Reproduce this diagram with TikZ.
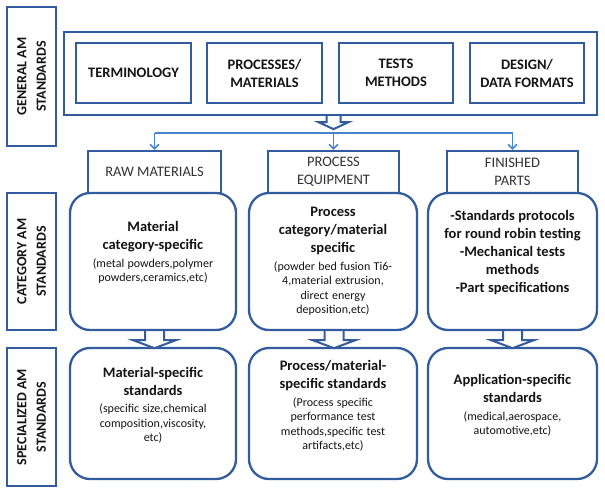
\documentclass[tikz,border=0pt]{standalone}
\usepackage{fontspec}
\setmainfont{Carlito}
\usetikzlibrary{arrows.meta,calc}
\definecolor{bord}{RGB}{50,92,158}
\definecolor{connc}{RGB}{72,132,204}
\definecolor{txt}{RGB}{20,20,20}
\definecolor{htxt}{RGB}{50,50,50}
\newcommand\BoldPart[1]{{\fontsize{14.5}{18}\selectfont\bfseries #1\par}}
\newcommand\SmallPart[1]{\par\vspace{3pt}{\fontsize{12}{14.5}\selectfont\noindent\char40 #1\par}}
\begin{document}
\begin{tikzpicture}[x=1pt,y=-1pt,
  box/.style={draw=bord,line width=2.3pt,fill=white,inner sep=0pt},
  labbox/.style={box,rotate=90,align=center,text=txt,
    font=\fontsize{14}{19.5}\selectfont\bfseries,minimum height=49pt},
  ibox/.style={box,align=center,text=txt,minimum height=60pt,
    font=\fontsize{14.5}{18}\selectfont\bfseries},
  hbox/.style={box,align=center,text=htxt,minimum height=42pt,
    font=\fontsize{14.5}{18}\selectfont},
  rbox/.style={box,rounded corners=20pt},
  rtext/.style={text width=165pt,align=center,inner sep=0pt,text=txt},
  cline/.style={draw=connc,line width=1.5pt},
  carrow/.style={cline,-{Straight Barb[length=4.5pt,width=9pt,line width=1.5pt]}},
  harrow/.style={draw=bord,line width=2pt,line join=miter},
  smallarr/.pic={
    \fill[white] (-7,1) -- (-7,6) -- (-15,6) -- (0,13) -- (15,6) -- (7,6) -- (7,1) -- cycle;
    \draw[harrow] (-7,0) -- (-7,6) -- (-15,6) -- (0,13) -- (15,6) -- (7,6) -- (7,0);},
  bigarr/.pic={
    \fill[white] (-9.5,1) -- (-9.5,9) -- (-21.5,9) -- (0,17) -- (21.5,9) -- (9.5,9) -- (9.5,1) -- cycle;
    \draw[harrow] (-9.5,0) -- (-9.5,9) -- (-21.5,9) -- (0,17) -- (21.5,9) -- (9.5,9) -- (9.5,0);}
]
\useasboundingbox (0,0) rectangle (605,493);

% side labels
\node[labbox,minimum width=139pt] (lg) at (31.5,76.5) {GENERAL AM\\STANDARDS};
\node[labbox,minimum width=137pt] (lc) at (31.5,261.5) {CATEGORY AM\\STANDARDS};
\node[labbox,minimum width=138pt] (ls) at (31.5,417) {SPECIALIZED AM\\STANDARDS};

% general standards
\node[box,minimum width=533pt,minimum height=83pt] (outer) at (330.5,73.5) {};
\node[ibox,minimum width=115pt] (term) at (133.5,73) {TERMINOLOGY};
\node[ibox,minimum width=115pt] (proc) at (264.5,73) {PROCESSES/\\MATERIALS};
\node[ibox,minimum width=114pt] (test) at (396,73) {TESTS\\METHODS};
\node[ibox,minimum width=114pt] (des) at (527,73) {DESIGN/\\DATA FORMATS};

% headers
\node[hbox,minimum width=133pt] (h1) at (154.5,172) {RAW MATERIALS};
\node[hbox,minimum width=131pt] (h2) at (333.5,172) {PROCESS\\EQUIPMENT};
\node[hbox,minimum width=131pt] (h3) at (512.5,172) {FINISHED\\PARTS};

% category boxes
\node[rbox,minimum width=166pt,minimum height=137pt] (r1) at (153,261.5) {};
\node[rbox,minimum width=168pt,minimum height=137pt] (r2) at (333,261.5) {};
\node[rbox,minimum width=169pt,minimum height=137pt] (r3) at (512.5,261.5) {};

% specialized boxes
\node[rbox,minimum width=166pt,minimum height=131pt] (r4) at (153,413.5) {};
\node[rbox,minimum width=168pt,minimum height=131pt] (r5) at (333,413.5) {};
\node[rbox,minimum width=169pt,minimum height=131pt] (r6) at (512.5,413.5) {};

% texts
\node[rtext] (t1) at ($(r1.center)+(0,-9)$) {\BoldPart{Material\\category-specific}\SmallPart{metal powders,polymer\\powders,ceramics,etc)}};
\node[rtext] (t2) at ($(r2.center)+(0,0)$) {\BoldPart{Process\\category/material\\specific}\SmallPart{powder bed fusion Ti6-\\4,material extrusion,\\direct energy\\deposition,etc)}};
\node[rtext] (t3) at ($(r3.center)+(0,-8.5)$) {\BoldPart{-Standards protocols\\for round robin testing\\-Mechanical tests\\methods\\-Part specifications}};
\node[rtext] (t4) at ($(r4.center)+(0,-8.5)$) {\BoldPart{Material-specific\\standards}\SmallPart{specific size,chemical\\composition,viscosity,\\etc)}};
\node[rtext] (t5) at ($(r5.center)+(0,-7.5)$) {\BoldPart{Process/material-\\specific standards}\SmallPart{Process specific\\performance test\\methods,specific test\\artifacts,etc)}};
\node[rtext] (t6) at ($(r6.center)+(0,-8)$) {\BoldPart{Application-specific\\standards}\SmallPart{medical,aerospace,\\automotive,etc)}};

% connectors
\coordinate (hub) at (333.5,133);
\path (hub |- outer.south) pic {smallarr};
\draw[cline] (h1 |- hub) -- (h3 |- hub);
\draw[carrow] (h1 |- hub) -- (h1);
\draw[carrow] (hub) -- (h2);
\draw[carrow] (h3 |- hub) -- (h3);

\path ($(r1.south)+(1.5,0)$) pic {bigarr};
\path ($(r2.south)+(1,0)$) pic {bigarr};
\path (r3.south) pic {bigarr};
\end{tikzpicture}
\end{document}
